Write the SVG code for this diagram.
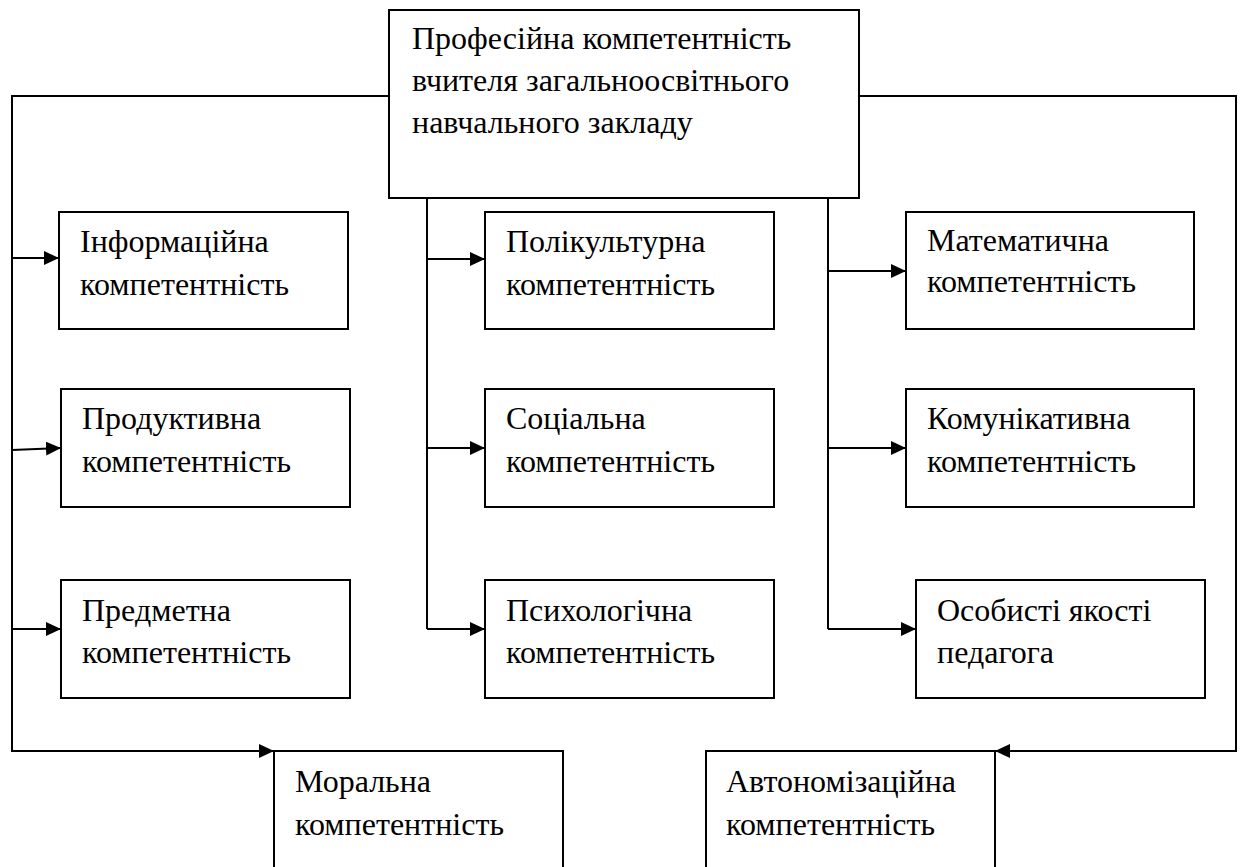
<svg xmlns="http://www.w3.org/2000/svg" width="1240" height="867" viewBox="0 0 1240 867">
<style>
  .box { fill: #fff; stroke: #000; stroke-width: 2; }
  .ln { fill: none; stroke: #000; stroke-width: 2; }
  text { font-family: 'Liberation Serif', 'Times New Roman', serif; font-size: 32px; fill: #000; }
</style>
<defs>
  <marker id="arr" markerUnits="userSpaceOnUse" markerWidth="16" markerHeight="14" refX="15" refY="7" orient="auto">
    <path d="M0,0 L15,7 L0,14 z" fill="#000"/>
  </marker>
</defs>
<rect width="1240" height="867" fill="#fff"/>
<g id="connectors">
  <path class="ln" d="M389,96 L12,96 L12,751 L274,751" marker-end="url(#arr)"/>
  <path class="ln" d="M859,96 L1236,96 L1236,751 L995,751" marker-end="url(#arr)"/>
  <line class="ln" x1="12" y1="258" x2="59" y2="258" marker-end="url(#arr)"/>
  <line class="ln" x1="12" y1="450" x2="61" y2="448" marker-end="url(#arr)"/>
  <line class="ln" x1="12" y1="629" x2="61" y2="629" marker-end="url(#arr)"/>
  <path class="ln" d="M427,198 L427,629"/>
  <line class="ln" x1="427" y1="259" x2="485" y2="259" marker-end="url(#arr)"/>
  <line class="ln" x1="427" y1="448" x2="485" y2="448" marker-end="url(#arr)"/>
  <line class="ln" x1="427" y1="629" x2="485" y2="629" marker-end="url(#arr)"/>
  <path class="ln" d="M828,198 L828,629"/>
  <line class="ln" x1="828" y1="271" x2="906" y2="271" marker-end="url(#arr)"/>
  <line class="ln" x1="828" y1="448" x2="906" y2="448" marker-end="url(#arr)"/>
  <line class="ln" x1="828" y1="629" x2="916" y2="629" marker-end="url(#arr)"/>
</g>
<g id="root">
  <rect class="box" x="389" y="10" width="470" height="188"/>
  <text x="412" y="49">Професійна компетентність</text>
  <text x="412" y="91">вчителя загальноосвітнього</text>
  <text x="412" y="133">навчального закладу</text>
</g>
<g id="n-inform">
  <rect class="box" x="59" y="212" width="289" height="117"/>
  <text x="80" y="252">Інформаційна</text>
  <text x="80" y="295">компетентність</text>
</g>
<g id="n-produkt">
  <rect class="box" x="61" y="389" width="289" height="118"/>
  <text x="82" y="429">Продуктивна</text>
  <text x="82" y="472">компетентність</text>
</g>
<g id="n-predmet">
  <rect class="box" x="61" y="580" width="289" height="118"/>
  <text x="82" y="621">Предметна</text>
  <text x="82" y="663">компетентність</text>
</g>
<g id="n-polikult">
  <rect class="box" x="485" y="212" width="289" height="117"/>
  <text x="506" y="252">Полікультурна</text>
  <text x="506" y="295">компетентність</text>
</g>
<g id="n-social">
  <rect class="box" x="485" y="389" width="289" height="118"/>
  <text x="506" y="429">Соціальна</text>
  <text x="506" y="472">компетентність</text>
</g>
<g id="n-psych">
  <rect class="box" x="485" y="580" width="289" height="118"/>
  <text x="506" y="621">Психологічна</text>
  <text x="506" y="663">компетентність</text>
</g>
<g id="n-math">
  <rect class="box" x="906" y="212" width="288" height="117"/>
  <text x="927" y="251">Математична</text>
  <text x="927" y="292">компетентність</text>
</g>
<g id="n-komun">
  <rect class="box" x="906" y="389" width="288" height="118"/>
  <text x="927" y="429">Комунікативна</text>
  <text x="927" y="472">компетентність</text>
</g>
<g id="n-osob">
  <rect class="box" x="916" y="580" width="289" height="118"/>
  <text x="937" y="621">Особисті якості</text>
  <text x="937" y="663">педагога</text>
</g>
<g id="n-moral">
  <rect class="box" x="274" y="751" width="289" height="140"/>
  <text x="295" y="792">Моральна</text>
  <text x="295" y="835">компетентність</text>
</g>
<g id="n-avtonom">
  <rect class="box" x="706" y="751" width="289" height="140"/>
  <text x="726" y="792">Автономізаційна</text>
  <text x="726" y="835">компетентність</text>
</g>
</svg>
